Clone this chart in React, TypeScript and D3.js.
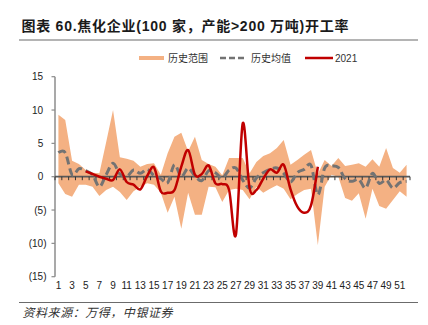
import React from "react";
import * as d3 from "d3";

const weeks = [1,2,3,4,5,6,7,8,9,10,11,12,13,14,15,16,17,18,19,20,21,22,23,24,25,26,27,28,29,30,31,32,33,34,35,36,37,38,39,40,41,42,43,44,45,46,47,48,49,50,51,52];
const bandMax = [9.3, 8.5, 2.4, 1.9, 1.0, 0.6, 0.5, 5.2, 10.0, 2.9, 2.7, 2.4, 1.5, 1.9, 2.0, 0.3, 3.5, 6.0, 6.6, 3.8, 6.0, 2.5, 1.9, 1.5, 0.2, 2.8, 2.8, 2.8, 0.5, 2.2, 3.1, 3.5, 4.3, 5.5, 1.8, 2.5, 3.3, 4.0, 0.4, 2.5, 1.6, 2.8, 1.6, 1.8, 2.0, 1.5, 2.6, 1.5, 4.3, 1.3, 0.6, 1.8];
const bandMin = [-1.0, -2.6, -3.0, -1.2, -1.2, -1.5, -2.9, -2.0, -1.5, -2.3, -3.5, -2.2, -1.5, -1.0, -1.2, -2.4, -5.4, -3.0, -7.8, -2.4, -5.7, -5.7, -1.5, -1.6, -3.8, -2.0, -1.8, -2.0, -3.4, -1.5, -2.4, -1.8, -1.3, -1.8, -3.4, -2.6, -2.0, -1.8, -10.3, -1.5, 0.3, 0.0, -3.2, -3.6, -2.5, -6.3, -1.8, -4.4, -4.8, -3.5, -2.2, -3.0];
const histAvg = [3.6, 3.6, 0.3, 1.2, 0.9, 0.3, -1.5, 0.3, 2.0, 0.4, 0.0, 1.0, 0.5, 1.1, 0.2, -0.3, -0.9, 1.8, 0.0, 1.3, 0.1, -0.6, 0.9, 0.6, -0.2, 1.0, 1.3, -0.5, -1.7, -0.2, 0.6, 1.1, 1.3, 0.5, -0.8, 0.6, 1.1, 1.7, -2.7, 1.3, 1.6, 1.4, -0.3, -0.7, -0.4, -1.7, 0.5, -1.0, -0.5, -1.7, -0.9, -0.7];
const y2021: (number | null)[] = [null, null, null, null, 0.8, 0.4, 0.0, -0.3, -0.5, 1.1, -0.8, -1.2, -1.9, 0.1, 1.4, -2.2, -2.4, -2.0, 1.5, 4.0, 0.3, 0.4, 1.7, -1.0, -1.1, -2.0, -8.7, 8.0, -1.7, -2.0, -0.3, 1.1, 0.6, 1.8, -1.9, -4.5, -5.4, -4.3, 1.5, null, null, null, null, null, null, null, null, null, null, null, null, null];
const yTicks = [15, 10, 5, 0, -5, -10, -15];
const xLabels = [1,3,5,7,9,11,13,15,17,19,21,23,25,27,29,31,33,35,37,39,41,43,45,47,49,51];
const legendLabels = ["历史范围", "历史均值", "2021"];
const titleText = "图表 60.焦化企业(100 家，产能>200 万吨)开工率";
const sourceText = "资料来源：万得，中银证券";

const FONT = "'Liberation Sans', Arial, 'Noto Sans CJK SC', sans-serif";

export default function App() {
  const x = d3.scaleBand<number>().domain(weeks).range([55, 410]);
  const bw = x.bandwidth();
  const cx = (w: number) => (x(w) as number) + bw / 2;
  const y = d3.scaleLinear().domain([-15, 15]).range([276.7, 76.7]);

  const area = d3
    .area<number>()
    .x((w) => cx(w))
    .y0((_, i) => y(bandMin[i]))
    .y1((_, i) => y(bandMax[i]));

  const avgLine = d3
    .line<number>()
    .x((w) => cx(w))
    .y((_, i) => y(histAvg[i]))
    .curve(d3.curveCatmullRom.alpha(0));

  const redLine = d3
    .line<number>()
    .defined((_, i) => y2021[i] !== null)
    .x((w) => cx(w))
    .y((_, i) => y(y2021[i] as number))
    .curve(d3.curveCatmullRom.alpha(0));

  const boundaries = weeks.map((w) => x(w) as number).concat([410]);

  return (
    <svg
      width={428}
      height={325}
      style={{ position: "absolute", left: 0, top: 0, background: "#fff" }}
      fontFamily={FONT}
    >
      <rect x={0} y={0} width={428} height={325} fill="#fff" />
      {/* title */}
      <text x={21.5} y={31} fontSize={14} fontWeight="bold" fill="#1a1a1a" textLength={327} lengthAdjust="spacing">
        {titleText}
      </text>
      <line x1={19} x2={418} y1={40} y2={40} stroke="#6b6b6b" strokeWidth={1.2} />

      {/* legend */}
      <line x1={139} x2={164} y1={58} y2={58} stroke="#F4B183" strokeWidth={4} />
      <text x={168} y={61.5} fontSize={10} fill="#333">{legendLabels[0]}</text>
      <line x1={220} x2={247} y1={58} y2={58} stroke="#737373" strokeWidth={2.5} strokeDasharray="6,3" />
      <text x={251} y={61.5} fontSize={10} fill="#333">{legendLabels[1]}</text>
      <line x1={305} x2={333} y1={58} y2={58} stroke="#C00000" strokeWidth={2.5} />
      <text x={335} y={61.5} fontSize={10} fill="#333">{legendLabels[2]}</text>

      {/* y axis */}
      <line x1={55} x2={55} y1={y(15)} y2={y(-15)} stroke="#8c8c8c" strokeWidth={1.5} />
      {yTicks.map((t) => (
        <g key={t}>
          <line x1={51.5} x2={55} y1={y(t)} y2={y(t)} stroke="#8c8c8c" strokeWidth={1.2} />
          <text
            x={t < 0 ? 46.5 : 43.2}
            y={y(t) + 3.6}
            fontSize={10}
            textAnchor="end"
            fill="#222"
          >
            {t < 0 ? `(${-t})` : `${t}`}
          </text>
        </g>
      ))}

      {/* band */}
      <path d={area(weeks) || ""} fill="#F4B183" stroke="none" />

      {/* x axis at zero */}
      <line x1={55} x2={410} y1={y(0)} y2={y(0)} stroke="#595959" strokeWidth={1.8} />
      {boundaries.map((b, i) => (
        <line key={i} x1={b} x2={b} y1={y(0)} y2={y(0) + 3.5} stroke="#333" strokeWidth={1} />
      ))}

      {/* average dashed */}
      <path d={avgLine(weeks) || ""} fill="none" stroke="#737373" strokeWidth={3} strokeDasharray="8,4" />

      {/* 2021 */}
      <path d={redLine(weeks) || ""} fill="none" stroke="#C00000" strokeWidth={2.5} strokeLinejoin="round" />

      {/* x labels */}
      {xLabels.map((w) => (
        <text key={w} x={cx(w)} y={289} fontSize={10} textAnchor="middle" fill="#222">
          {w}
        </text>
      ))}

      {/* source */}
      <line x1={19} x2={418} y1={302.5} y2={302.5} stroke="#6b6b6b" strokeWidth={1.2} />
      <text x={22.5} y={316.5} fontSize={12} fontStyle="italic" fill="#333" fontFamily="'Noto Sans CJK SC', sans-serif" textLength={150} lengthAdjust="spacing">
        {sourceText}
      </text>
    </svg>
  );
}
